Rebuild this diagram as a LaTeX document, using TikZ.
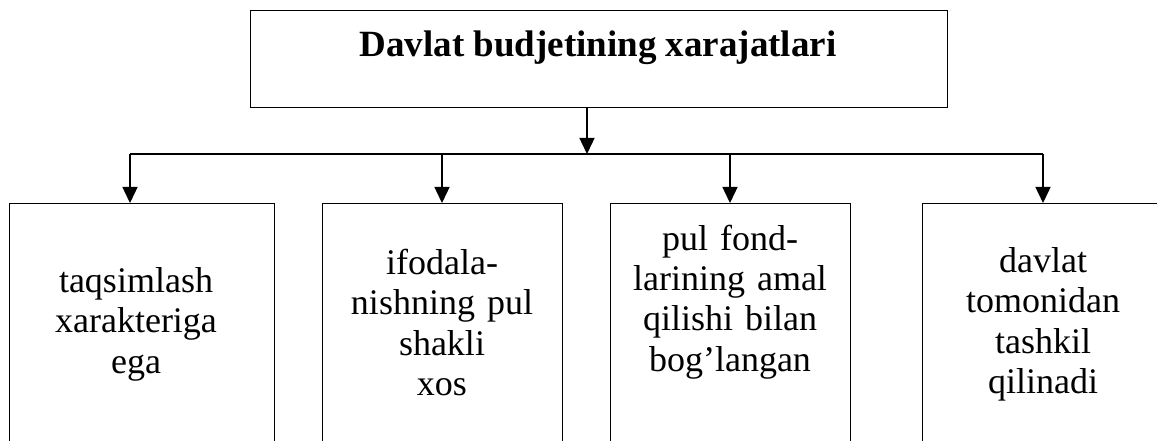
\documentclass[tikz,border=0pt]{standalone}
\usepackage{fontspec}
\setmainfont{Liberation Serif}
\usetikzlibrary{arrows.meta}
\begin{document}
\begin{tikzpicture}[x=1pt,y=-1pt,
  frame/.style={draw,line width=1.4pt,inner sep=0pt,anchor=north west},
  conn/.style={line width=1.4pt},
  arr/.style={conn,-{Triangle[width=15pt,length=16pt]}},
  body/.style={font=\fontsize{36}{40.5}\selectfont,align=center,text width=250pt,inner sep=0pt,anchor=base},
  title/.style={font=\fontsize{37}{42}\selectfont\bfseries,inner sep=0pt,anchor=base}]
\useasboundingbox (0,0) rectangle (1157,441);
\fill[white] (0,0) rectangle (1157,441);
% top box
\node[frame,minimum width=697pt,minimum height=97pt] (top) at (250,10) {};
\node[title] (ttl) at (598,57) {Davlat budjetining xarajatlari};
% lower boxes
\node[frame,minimum width=265pt,minimum height=280pt] (b1) at (9,203) {};
\node[frame,minimum width=240pt,minimum height=280pt] (b2) at (322,203) {};
\node[frame,minimum width=240pt,minimum height=280pt] (b3) at (610,203) {};
\node[frame,minimum width=240pt,minimum height=280pt] (b4) at (922,203) {};
% texts
\node[body] (t1) at (136,292) {taqsimlash\\xarakteriga\\ega};
\node[body] (t2) at (442,274) {ifodala-\\nishning pul\\shakli\\xos};
\node[body] (t3) at (730,250) {pul fond-\\larining amal\\qilishi bilan\\bog’langan};
\node[body] (t4) at (1043,272) {davlat\\tomonidan\\tashkil\\qilinadi};
% connectors
\coordinate (j) at (587,154);
\coordinate (d1) at (130,154);
\coordinate (d2) at (442,154);
\coordinate (d3) at (730,154);
\coordinate (d4) at (1043,154);
\draw[arr] (top.south -| j) -- (j);
\draw[conn] (d1) -- (d4);
\draw[arr] (d1) -- (d1 |- b1.north);
\draw[arr] (d2) -- (d2 |- b2.north);
\draw[arr] (d3) -- (d3 |- b3.north);
\draw[arr] (d4) -- (d4 |- b4.north);
\end{tikzpicture}
\end{document}
